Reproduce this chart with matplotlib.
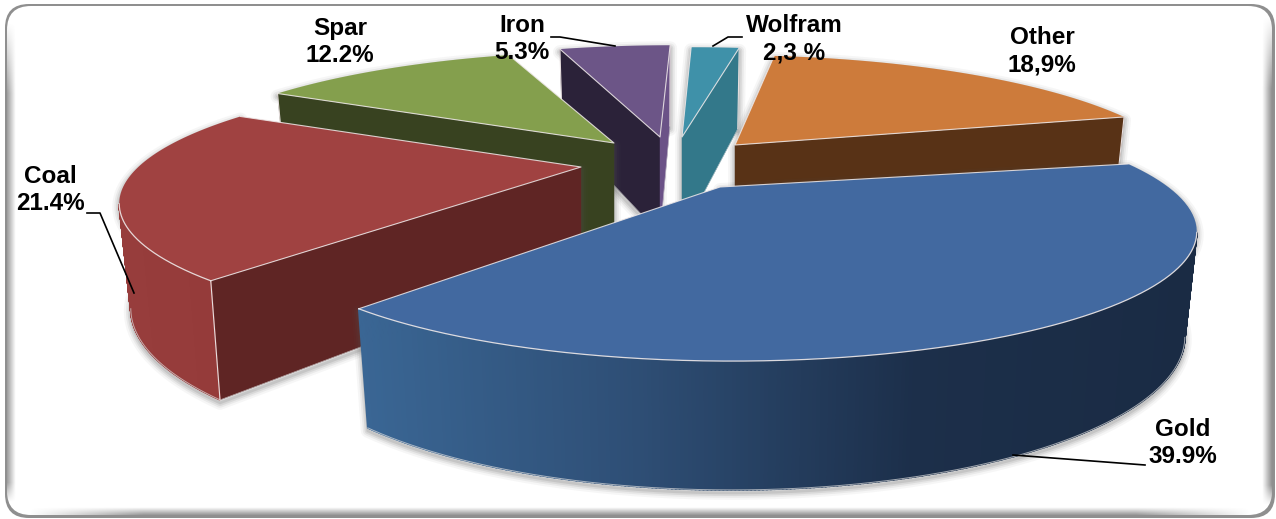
import numpy as np
import matplotlib
matplotlib.use('Agg')
from matplotlib import pyplot as plt
from matplotlib.colors import LinearSegmentedColormap
from matplotlib.patches import FancyBboxPatch, Polygon

# chart data, clockwise from the right edge of Gold
names = ['Gold', 'Coal', 'Spar', 'Iron', 'Wolfram', 'Other']
shares = [39.9, 21.4, 12.2, 5.3, 2.3, 18.9]
share_labels = ['39.9%', '21.4%', '12.2%', '5.3%', '2,3 %', '18,9%']

top_colors = ['#4269a0', '#a04241', '#849f4d', '#6c5587', '#3f91a9', '#cd7b3b']
rim_colors = [['#3a6694', '#2e4e75', '#1c2f4a', '#1a2b44'],
              ['#973d3c', '#953b3a'],
              ['#5f7a38', '#5f7a38'],
              ['#4a3a60', '#4a3a60'],
              ['#33788a', '#33788a'],
              ['#95592a', '#95592a']]
# face on the clockwise-start side, face on the clockwise-end side
face_colors = [['#1a2b44', '#2c4869'], ['#5f2524', '#5f2524'],
               ['#384220', '#384220'], ['#2b2239', '#6b5287'],
               ['#33788a', '#33788a'], ['#583216', '#583216']]

# where each exploded slice ended up (pixels) and a nudge of its outer rim
apex = [(720, 187), (581, 167), (614, 143), (660, 137), (682, 137), (735, 145)]
rim_shift = [(12, 3), (3, -5), (7, -4), (12, -4), (11, -2), (-7, -2)]
start_angle = 14.0
Ax, Ay, persp = 440.0, 116.0, 0.322
bottom_shrink = 0.975

label_pos = [(1183, 443), (50, 190), (340, 42), (522, 39), (794, 39), (1042, 51)]
leaders = [[(1145, 465), (1013, 455)],
           [(87, 213), (100, 213), (134, 293)],
           [],
           [(551, 37), (560, 37), (615, 46)],
           [(742, 37), (728, 37), (713, 46)],
           []]


def top_xy(c, s, theta):
    w = 1 / (1 + persp * np.sin(theta))
    return c[0] + s[0] + Ax * np.cos(theta) * w, c[1] + s[1] - Ay * np.sin(theta) * w


def thick(theta):
    w = 1 / (1 + persp * np.sin(theta))
    return 30 + 67 * w


def bottom_xy(c, s, theta):
    x, y = top_xy(c, s, theta)
    return c[0] + (x - c[0]) * bottom_shrink, y + thick(theta)


def band(extent, alpha, clip):
    # grey strip with a soft alpha, clipped to the white panel
    img = np.zeros(alpha.shape + (4,))
    img[..., :3] = 0.5
    img[..., 3] = alpha
    im = ax.imshow(img, extent=extent, aspect='auto', interpolation='bilinear', zorder=0.3)
    im.set_clip_path(clip)


fig = plt.figure(figsize=(12.76, 5.19), dpi=100)
ax = fig.add_axes([0, 0, 1, 1])

# rounded panel with its soft edge
box = 'round,pad=0,rounding_size=24'
ax.add_patch(FancyBboxPatch((5, 4), 1270, 514, boxstyle=box, fc='#8f8f8f', ec='none', zorder=0))
panel = FancyBboxPatch((7, 6), 1265, 509, boxstyle=box, fc='white', ec='none', zorder=0.2)
ax.add_patch(panel)
taper = np.r_[np.linspace(0, 1, 12), np.ones(60), np.linspace(1, 0, 4)]
ramp = np.linspace(1, 0, 12)
band((7, 16, 505, 20), np.outer(taper, ramp) * 0.75, panel)
band((1262, 1272, 508, 14), np.outer(taper, ramp[::-1]) * 0.85, panel)
band((22, 1258, 515, 507), np.outer(ramp[::-1], np.r_[np.linspace(0, 1, 8), np.ones(60), np.linspace(1, 0, 8)]) * 0.8, panel)

ax.set_xlim(0, 1276)
ax.set_ylim(519, 0)
ax.axis('off')

edges = np.cumsum([0] + shares) / sum(shares) * 360
angles = np.radians(start_angle - edges)

# back slices first, Gold in front
order = [3, 4, 2, 5, 1, 0]
for n, i in enumerate(order):
    z = 1 + n
    c = apex[i]
    s = rim_shift[i]
    t0, t1 = angles[i], angles[i + 1]
    th = np.linspace(t0, t1, 80)
    tx, ty = top_xy(c, s, th)
    bx, by = bottom_xy(c, s, th)
    top = np.column_stack([np.r_[c[0], tx], np.r_[c[1], ty]])
    base_y = c[1] + thick(0.0)

    # blurred shadow of the whole slice
    sil = np.vstack([top, np.column_stack([bx, by])[::-1], [[c[0], base_y]]])
    for lw, a in [(10, 0.05), (7, 0.08), (4.5, 0.11), (2, 0.14)]:
        ax.add_patch(Polygon(sil + [0, 3], closed=True, fc='none', ec='#555555', lw=lw, alpha=a,
                             joinstyle='round', zorder=z))

    # radial faces, only the ones turned towards the viewer
    for k, (t, side) in enumerate([(t0, -1), (t1, 1)]):
        rx, ry = top_xy(c, s, t)
        if side * (rx - c[0]) > 0:
            b = bottom_xy(c, s, t)
            pts = [c, (rx, ry), b, (c[0], base_y)]
            ax.add_patch(Polygon(pts, closed=True, fc=face_colors[i][k], ec=face_colors[i][k], lw=0.3, zorder=z + 0.1))
            ax.plot([rx, b[0]], [ry, b[1]], color='#e6dede', lw=0.8, zorder=z + 0.35)
            ax.plot([b[0], c[0]], [b[1], base_y], color='#d8d8d8', lw=0.5, alpha=0.6, zorder=z + 0.15)

    ax.add_patch(Polygon(top, closed=True, fc=top_colors[i], ec='none', zorder=z + 0.4))
    ax.plot([tx[0], c[0], tx[-1]], [ty[0], c[1], ty[-1]], color='#efe9e9', lw=0.8, alpha=0.85, zorder=z + 0.5)

    # outer rim, the part below the widest point of the ellipse
    rim = np.linspace(t0, t1, 400)
    rim = rim[np.sin(rim) < -persp]
    if len(rim) > 1:
        rx, ry = top_xy(c, s, rim)
        qx, qy = bottom_xy(c, s, rim)
        cmap = LinearSegmentedColormap.from_list('rim', rim_colors[i])
        span = rx.max() - rx.min()
        for j in range(len(rim) - 1):
            col = cmap((rx[j] - rx.min()) / span)
            ax.add_patch(Polygon([(rx[j], ry[j]), (rx[j + 1], ry[j + 1]), (qx[j + 1], qy[j + 1]), (qx[j], qy[j])],
                                 closed=True, fc=col, ec=col, lw=1.2, zorder=z + 0.2))
        ax.plot(qx, qy, color='#dcdcdc', lw=0.7, alpha=0.7, zorder=z + 0.3)
        ax.plot(rx, ry, color='#efe9e9', lw=0.9, alpha=0.9, zorder=z + 0.5)

plt.rcParams['font.family'] = ['Liberation Sans', 'DejaVu Sans']
for name, val, pos, line in zip(names, share_labels, label_pos, leaders):
    ax.text(pos[0], pos[1], name + '\n' + val, ha='center', va='center', fontsize=17.5, fontweight='bold',
            color='black', linespacing=1.27, zorder=20)
    if line:
        ax.plot([p[0] for p in line], [p[1] for p in line], color='black', lw=1.2, zorder=19)

fig.savefig('out.png', dpi=100)
